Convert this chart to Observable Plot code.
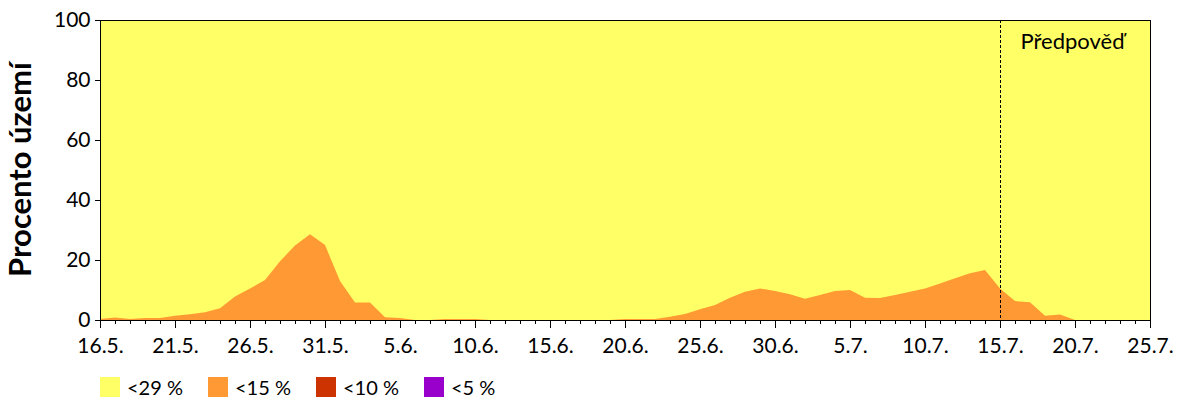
<!DOCTYPE html>
<html>
<head>
<meta charset="utf-8">
<script src="https://cdn.jsdelivr.net/npm/d3@7"></script>
<script src="https://cdn.jsdelivr.net/npm/@observablehq/plot@0.6"></script>
<style>
  body { margin: 0; background: white; font-family: Lato, sans-serif; }
  #legend { display: flex; margin-left: 100px; margin-top: 15px; font-size: 20px; color: black; }
  #legend .item { display: flex; align-items: center; width: 108px; }
  #legend .sw { width: 20px; height: 20px; margin-right: 7px; }
</style>
</head>
<body>
<div id="chart"></div>
<div id="legend"></div>
<script>
// ---- data ----
const startDate = "2024-05-16";
// percentage of territory in class <15 % (daily, 16.5. – 25.7.)
const values15 = [
  0.3, 0.8, 0.3, 0.7, 0.7, 1.4, 1.9, 2.6, 3.9, 7.8,
  10.5, 13.3, 19.6, 24.8, 28.6, 25.0, 13.0, 5.8, 5.8, 0.9,
  0.7, 0, 0, 0.3, 0.3, 0.3, 0, 0, 0, 0,
  0, 0, 0, 0, 0, 0.3, 0.3, 0.3, 1.1, 2.0,
  3.6, 5.0, 7.4, 9.4, 10.5, 9.7, 8.6, 7.1, 8.3, 9.7,
  10.0, 7.4, 7.3, 8.3, 9.4, 10.5, 12.2, 13.9, 15.6, 16.7,
  10.5, 6.3, 5.9, 1.4, 1.8, 0, 0, 0, 0, 0,
  0
];
// class <29 % covers the whole territory
const values29 = values15.map(() => 100);
const yTicks = [0, 20, 40, 60, 80, 100];
const majorTickStep = 5;
const forecastIndex = 60;            // 15.7.
const forecastLabel = "Předpověď";
const yTitle = "Procento území";
const legendLabels = ["<29 %", "<15 %", "<10 %", "<5 %"];
const legendColors = ["#FFFF66", "#FF9933", "#CC3300", "#9900CC"];

// ---- derived ----
const start = new Date(startDate + "T00:00:00Z");
const dates = values15.map((_, i) => d3.utcDay.offset(start, i));
const rows = dates.map((d, i) => ({date: d, v29: values29[i], v15: values15[i]}));
const majorTicks = dates.filter((_, i) => i % majorTickStep === 0);
const fmt = d3.utcFormat("%-d.%-m.");
const forecastDate = dates[forecastIndex];

const chart = Plot.plot({
  width: 1200,
  height: 360,
  marginLeft: 100,
  marginRight: 50,
  marginTop: 20,
  marginBottom: 40,
  style: {fontFamily: "Lato, sans-serif", fontSize: "20px", color: "black", background: "white", overflow: "visible"},
  x: {type: "utc", domain: [dates[0], dates[dates.length - 1]]},
  y: {domain: [0, 100]},
  marks: [
    Plot.areaY(rows, {x: "date", y: "v29", fill: legendColors[0]}),
    Plot.areaY(rows, {x: "date", y: "v15", fill: legendColors[1]}),
    Plot.ruleX([forecastDate], {stroke: "black", strokeWidth: 1, strokeDasharray: "3,2"}),
    Plot.text([forecastLabel], {x: () => forecastDate, text: d => d, frameAnchor: "top", textAnchor: "start", lineAnchor: "middle", dx: 20, dy: 21, fontSize: 22, fill: "black"}),
    Plot.frame({stroke: "black"}),
    Plot.axisY({ticks: yTicks, tickSize: 5, tickPadding: 5, label: null, fontSize: 21}),
    Plot.axisX({ticks: dates, tickSize: 4, tickFormat: () => "", label: null}),
    Plot.axisX({ticks: majorTicks, tickSize: 8, tickPadding: 10, tickFormat: fmt, label: null, fontSize: 21}),
    Plot.text([yTitle], {text: d => d, frameAnchor: "left", rotate: -90, textAnchor: "middle", lineAnchor: "middle", dx: -79, dy: -1, fontSize: 31, fontWeight: "bold", fill: "black"})
  ]
});
document.getElementById("chart").appendChild(chart);

const legend = document.getElementById("legend");
legendLabels.forEach((lab, i) => {
  const item = document.createElement("div");
  item.className = "item";
  const sw = document.createElement("div");
  sw.className = "sw";
  sw.style.background = legendColors[i];
  const t = document.createElement("span");
  t.textContent = lab;
  item.appendChild(sw);
  item.appendChild(t);
  legend.appendChild(item);
});
</script>
</body>
</html>
